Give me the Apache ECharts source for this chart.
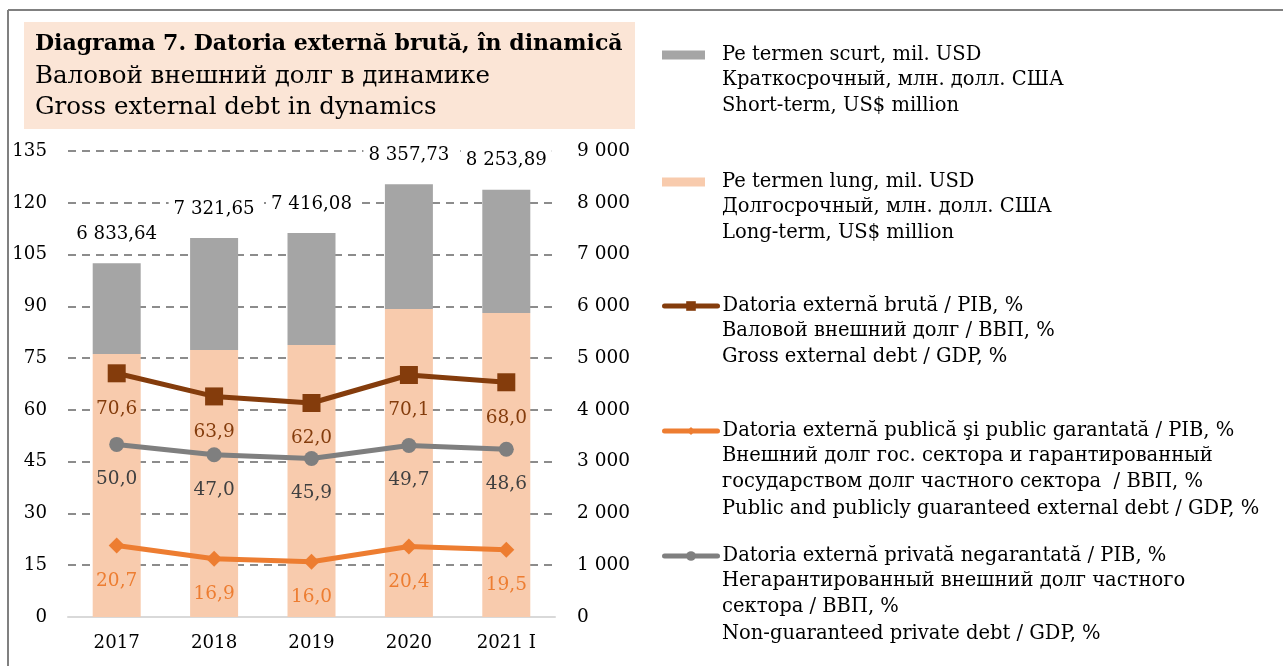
<!DOCTYPE html>
<html>
<head>
<meta charset="utf-8">
<script src="https://cdn.jsdelivr.net/npm/echarts@6/dist/echarts.min.js"></script>
<style>
html,body{margin:0;padding:0;background:#fff;}
#c{width:1283px;height:666px;}
</style>
</head>
<body>
<div id="c"></div>
<script>
const categories = ['2017', '2018', '2019', '2020', '2021 I'];
const longTerm = [5079, 5157, 5253, 5948, 5871];
const shortTerm = [1754.6, 2164.7, 2163.1, 2409.7, 2382.9];
const totals = [6833.64, 7321.65, 7416.08, 8357.73, 8253.89];
const grossPct = [70.6, 63.9, 62.0, 70.1, 68.0];
const publicPct = [20.7, 16.9, 16.0, 20.4, 19.5];
const privatePct = [50.0, 47.0, 45.9, 49.7, 48.6];

const titleLines = ['Diagrama 7. Datoria externă brută, în dinamică', 'Валовой внешний долг в динамике', 'Gross external debt in dynamics'];
const legendShort = ['Pe termen scurt, mil. USD', 'Краткосрочный, млн. долл. США', 'Short-term, US$ million'];
const legendLong = ['Pe termen lung, mil. USD', 'Долгосрочный, млн. долл. США', 'Long-term, US$ million'];
const legendGross = ['Datoria externă brută / PIB, %', 'Валовой внешний долг / ВВП, %', 'Gross external debt / GDP, %'];
const legendPublic = ['Datoria externă publică şi public garantată / PIB, %', 'Внешний долг гос. сектора и гарантированный', 'государством долг частного сектора  / ВВП, %', 'Public and publicly guaranteed external debt / GDP, %'];
const legendPrivate = ['Datoria externă privată negarantată / PIB, %', 'Негарантированный внешний долг частного', 'сектора / ВВП, %', 'Non-guaranteed private debt / GDP, %'];

const FONT = '"DejaVu Serif", "Liberation Serif", serif';
const FS = 19.5;
const AFS = 18.2;
const LFS = 18.5;
const fmtThousands = v => {
  const parts = v.toFixed(2).split('.');
  return parts[0].replace(/\B(?=(\d{3})+(?!\d))/g, ' ') + ',' + parts[1];
};
const fmtInt = v => String(v).replace(/\B(?=(\d{3})+(?!\d))/g, ' ');
const fmtPct = v => v.toFixed(1).replace('.', ',');

const chart = echarts.init(document.getElementById('c'), null, {renderer: 'canvas'});

const legendBlocks = [
  {lines: legendShort, y: 53},
  {lines: legendLong, y: 180},
  {lines: legendGross, y: 304},
  {lines: legendPublic, y: 429},
  {lines: legendPrivate, y: 554}
];
const LH = 26.7;

const graphic = [
  {type: 'line', shape: {x1: 8, y1: 10, x2: 1283, y2: 10}, style: {stroke: '#808080', lineWidth: 2}, silent: true},
  {type: 'line', shape: {x1: 8, y1: 10, x2: 8, y2: 666}, style: {stroke: '#808080', lineWidth: 2}, silent: true},
  {type: 'rect', shape: {x: 24, y: 22, width: 611, height: 107}, style: {fill: '#FBE5D6'}, silent: true, z: -1},
  {type: 'text', x: 35, y: 44, style: {text: titleLines[0], font: 'bold 22px ' + FONT, fill: '#000', verticalAlign: 'middle'}},
  {type: 'text', x: 35, y: 77, style: {text: titleLines[1], font: '24.5px ' + FONT, fill: '#000', verticalAlign: 'middle'}},
  {type: 'text', x: 35, y: 108, style: {text: titleLines[2], font: '24.5px ' + FONT, fill: '#000', verticalAlign: 'middle'}}
];
legendBlocks.forEach(b => {
  b.lines.slice(1).forEach((t, i) => {
    graphic.push({type: 'text', x: 722, y: b.y + LH * (i + 1), style: {text: t, font: FS + 'px ' + FONT, fill: '#000', verticalAlign: 'middle'}});
  });
});

const legendCommon = {
  orient: 'vertical',
  padding: 0,
  textStyle: {fontFamily: FONT, fontSize: FS, color: '#000'},
  itemGap: 0,
  lineStyle: {width: 5, cap: 'round'}
};

const option = {
  animation: false,
  backgroundColor: '#fff',
  textStyle: {fontFamily: FONT},
  graphic: graphic,
  legend: [
    Object.assign({}, legendCommon, {left: 662, top: 53 - 8, data: [{name: legendShort[0], icon: 'rect'}], itemWidth: 43, itemHeight: 9, textStyle: {fontFamily: FONT, fontSize: FS, color: '#000', padding: [0, 0, 0, 12]}}),
    Object.assign({}, legendCommon, {left: 662, top: 180 - 8, data: [{name: legendLong[0], icon: 'rect'}], itemWidth: 43, itemHeight: 9, textStyle: {fontFamily: FONT, fontSize: FS, color: '#000', padding: [0, 0, 0, 12]}}),
    Object.assign({}, legendCommon, {left: 662, top: 304 - 8, data: [legendGross[0]], itemWidth: 53, itemHeight: 12}),
    Object.assign({}, legendCommon, {left: 662, top: 429 - 8, data: [legendPublic[0]], itemWidth: 53, itemHeight: 10}),
    Object.assign({}, legendCommon, {left: 662, top: 554 - 8, data: [legendPrivate[0]], itemWidth: 53, itemHeight: 12})
  ],
  grid: {left: 68, right: 728, top: 151, bottom: 49, containLabel: false},
  xAxis: {
    type: 'category',
    data: categories,
    axisLine: {show: true, lineStyle: {color: '#D9D9D9', width: 2}},
    axisTick: {show: false},
    axisLabel: {fontFamily: FONT, fontSize: AFS, color: '#000', margin: 17}
  },
  yAxis: [
    {
      type: 'value', min: 0, max: 135, interval: 15,
      axisLine: {show: false}, axisTick: {show: false},
      axisLabel: {fontFamily: FONT, fontSize: AFS, color: '#000', margin: 21},
      splitLine: {show: true, lineStyle: {color: '#8C8C8C', width: 2, type: [8, 6]}}
    },
    {
      type: 'value', min: 0, max: 9000, interval: 1000,
      axisLine: {show: false}, axisTick: {show: false},
      axisLabel: {fontFamily: FONT, fontSize: 18.5, color: '#000', margin: 22, formatter: v => fmtInt(v)},
      splitLine: {show: false}
    }
  ],
  series: [
    {
      name: legendLong[0], type: 'bar', stack: 'debt', yAxisIndex: 1, barWidth: 48,
      data: longTerm, itemStyle: {color: '#F8CBAD'}, z: 2
    },
    {
      name: legendShort[0], type: 'bar', stack: 'debt', yAxisIndex: 1, barWidth: 48,
      data: shortTerm, itemStyle: {color: '#A5A5A5'}, z: 2,
      label: {
        show: true, position: 'top', distance: 18,
        formatter: p => fmtThousands(totals[p.dataIndex]),
        fontFamily: FONT, fontSize: AFS, color: '#000',
        backgroundColor: '#fff', padding: [2, 5]
      }
    },
    {
      name: legendGross[0], type: 'line', yAxisIndex: 0, data: grossPct,
      symbol: 'rect', symbolSize: 18,
      lineStyle: {color: '#843C0C', width: 5}, itemStyle: {color: '#843C0C'}, z: 5,
      label: {show: true, position: 'bottom', distance: 17, formatter: p => fmtPct(p.value), fontFamily: FONT, fontSize: LFS, color: '#843C0C'}
    },
    {
      name: legendPublic[0], type: 'line', yAxisIndex: 0, data: publicPct,
      symbol: 'diamond', symbolSize: 16,
      lineStyle: {color: '#ED7D31', width: 5}, itemStyle: {color: '#ED7D31'}, z: 5,
      label: {show: true, position: 'bottom', distance: 18, formatter: p => fmtPct(p.value), fontFamily: FONT, fontSize: LFS, color: '#ED7D31'}
    },
    {
      name: legendPrivate[0], type: 'line', yAxisIndex: 0, data: privatePct,
      symbol: 'circle', symbolSize: 15,
      lineStyle: {color: '#7F7F7F', width: 5}, itemStyle: {color: '#7F7F7F'}, z: 5,
      label: {show: true, position: 'bottom', distance: 18, formatter: p => fmtPct(p.value), fontFamily: FONT, fontSize: LFS, color: '#404040'}
    }
  ]
};
chart.setOption(option);
</script>
</body>
</html>
